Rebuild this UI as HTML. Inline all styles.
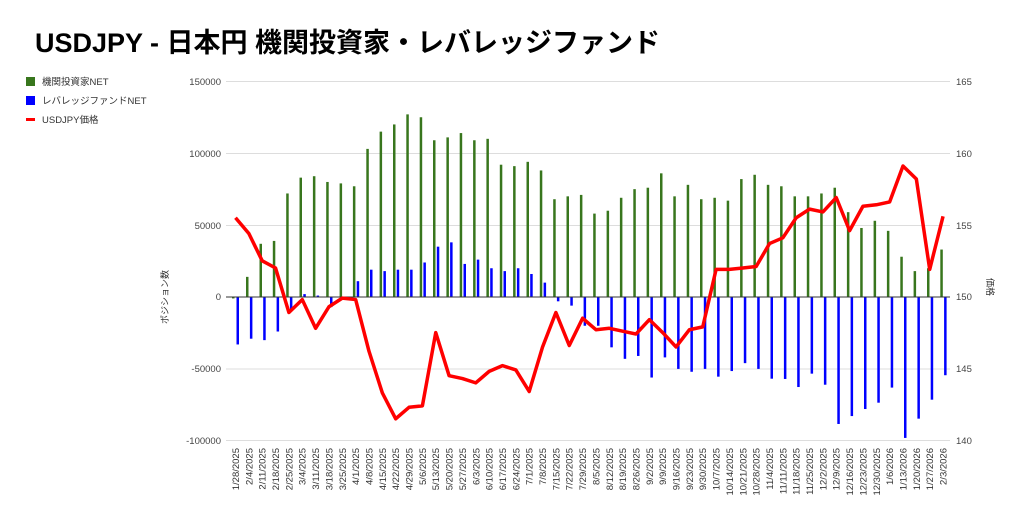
<!DOCTYPE html>
<html><head><meta charset="utf-8"><style>
body{margin:0;background:#fff;}
svg{display:block;font-family:"Liberation Sans","Noto Sans CJK JP",sans-serif;}
</style></head><body>
<svg width="1024" height="521" viewBox="0 0 1024 521" xmlns="http://www.w3.org/2000/svg">
<text x="35" y="52" font-size="27" font-weight="bold" fill="#000">USDJPY - 日本円 機関投資家・レバレッジファンド</text>
<rect x="26" y="77" width="9" height="9" fill="#38761d"/><text x="42" y="85" font-size="9.5" fill="#333">機関投資家NET</text>
<rect x="26" y="96" width="9" height="9" fill="#0000ff"/><text x="42" y="104" font-size="9.5" fill="#333">レバレッジファンドNET</text>
<rect x="26" y="118" width="9" height="3" fill="#ff0000"/><text x="42" y="123" font-size="9.5" fill="#333">USDJPY価格</text>
<g stroke="#ddd" stroke-width="1">
<line x1="226" y1="81.5" x2="950" y2="81.5"/><line x1="226" y1="153.5" x2="950" y2="153.5"/><line x1="226" y1="225.5" x2="950" y2="225.5"/><line x1="226" y1="369" x2="950" y2="369"/><line x1="226" y1="440.5" x2="950" y2="440.5"/>
</g>
<g font-size="9.5" fill="#444" text-anchor="end">
<text x="221" y="85">150000</text><text x="221" y="157">100000</text><text x="221" y="229">50000</text><text x="221" y="300">0</text><text x="221" y="372">-50000</text><text x="221" y="444">-100000</text>
</g>
<g font-size="9.5" fill="#444">
<text x="956" y="85">165</text><text x="956" y="157">160</text><text x="956" y="229">155</text><text x="956" y="300">150</text><text x="956" y="372">145</text><text x="956" y="444">140</text>
</g>
<text transform="translate(168,297) rotate(-90)" font-size="9" fill="#333" text-anchor="middle">ポジション数</text>
<text transform="translate(987,287) rotate(90)" font-size="9" fill="#333" text-anchor="middle">価格</text>
<g transform="translate(0,297) scale(1,-0.001438)">
<g fill="#38761d">
<rect x="232" y="-1000" width="2.5" height="1000"/>
<rect x="246" y="0" width="2.5" height="14000"/>
<rect x="259.5" y="0" width="2.5" height="37000"/>
<rect x="272.8" y="0" width="2.5" height="39000"/>
<rect x="286.2" y="0" width="2.5" height="72000"/>
<rect x="299.5" y="0" width="2.5" height="83000"/>
<rect x="312.9" y="0" width="2.5" height="84000"/>
<rect x="326.2" y="0" width="2.5" height="80000"/>
<rect x="339.6" y="0" width="2.5" height="79000"/>
<rect x="352.9" y="0" width="2.5" height="77000"/>
<rect x="366.3" y="0" width="2.5" height="103000"/>
<rect x="379.6" y="0" width="2.5" height="115000"/>
<rect x="393" y="0" width="2.5" height="120000"/>
<rect x="406.3" y="0" width="2.5" height="127000"/>
<rect x="419.7" y="0" width="2.5" height="125000"/>
<rect x="433" y="0" width="2.5" height="109000"/>
<rect x="446.4" y="0" width="2.5" height="111000"/>
<rect x="459.7" y="0" width="2.5" height="114000"/>
<rect x="473.1" y="0" width="2.5" height="109000"/>
<rect x="486.4" y="0" width="2.5" height="110000"/>
<rect x="499.8" y="0" width="2.5" height="92000"/>
<rect x="513.1" y="0" width="2.5" height="91000"/>
<rect x="526.5" y="0" width="2.5" height="94000"/>
<rect x="539.8" y="0" width="2.5" height="88000"/>
<rect x="553.2" y="0" width="2.5" height="68000"/>
<rect x="566.5" y="0" width="2.5" height="70000"/>
<rect x="579.9" y="0" width="2.5" height="71000"/>
<rect x="593.2" y="0" width="2.5" height="58000"/>
<rect x="606.6" y="0" width="2.5" height="60000"/>
<rect x="619.9" y="0" width="2.5" height="69000"/>
<rect x="633.3" y="0" width="2.5" height="75000"/>
<rect x="646.6" y="0" width="2.5" height="76000"/>
<rect x="660" y="0" width="2.5" height="86000"/>
<rect x="673.3" y="0" width="2.5" height="70000"/>
<rect x="686.7" y="0" width="2.5" height="78000"/>
<rect x="700" y="0" width="2.5" height="68000"/>
<rect x="713.4" y="0" width="2.5" height="69000"/>
<rect x="726.7" y="0" width="2.5" height="67000"/>
<rect x="740.1" y="0" width="2.5" height="82000"/>
<rect x="753.4" y="0" width="2.5" height="85000"/>
<rect x="766.8" y="0" width="2.5" height="78000"/>
<rect x="780.1" y="0" width="2.5" height="77000"/>
<rect x="793.5" y="0" width="2.5" height="70000"/>
<rect x="806.8" y="0" width="2.5" height="70000"/>
<rect x="820.2" y="0" width="2.5" height="72000"/>
<rect x="833.5" y="0" width="2.5" height="76000"/>
<rect x="846.9" y="0" width="2.5" height="59000"/>
<rect x="860.2" y="0" width="2.5" height="48000"/>
<rect x="873.6" y="0" width="2.5" height="53000"/>
<rect x="886.9" y="0" width="2.5" height="46000"/>
<rect x="900.3" y="0" width="2.5" height="28000"/>
<rect x="913.6" y="0" width="2.5" height="18000"/>
<rect x="927" y="0" width="2.5" height="20000"/>
<rect x="940.3" y="0" width="2.5" height="33000"/>
</g>
<g fill="#0000ff">
<rect x="236.5" y="-33000" width="2.5" height="33000"/>
<rect x="249.9" y="-29000" width="2.5" height="29000"/>
<rect x="263.2" y="-30000" width="2.5" height="30000"/>
<rect x="276.6" y="-24000" width="2.5" height="24000"/>
<rect x="289.9" y="-10000" width="2.5" height="10000"/>
<rect x="303.3" y="0" width="2.5" height="2000"/>
<rect x="316.6" y="0" width="2.5" height="1000"/>
<rect x="330" y="-7000" width="2.5" height="7000"/>
<rect x="343.3" y="-500" width="2.5" height="500"/>
<rect x="356.7" y="0" width="2.5" height="11000"/>
<rect x="370" y="0" width="2.5" height="19000"/>
<rect x="383.4" y="0" width="2.5" height="18000"/>
<rect x="396.7" y="0" width="2.5" height="19000"/>
<rect x="410.1" y="0" width="2.5" height="19000"/>
<rect x="423.4" y="0" width="2.5" height="24000"/>
<rect x="436.8" y="0" width="2.5" height="35000"/>
<rect x="450.1" y="0" width="2.5" height="38000"/>
<rect x="463.5" y="0" width="2.5" height="23000"/>
<rect x="476.8" y="0" width="2.5" height="26000"/>
<rect x="490.2" y="0" width="2.5" height="20000"/>
<rect x="503.5" y="0" width="2.5" height="18000"/>
<rect x="516.9" y="0" width="2.5" height="20000"/>
<rect x="530.2" y="0" width="2.5" height="16000"/>
<rect x="543.6" y="0" width="2.5" height="10000"/>
<rect x="556.9" y="-3000" width="2.5" height="3000"/>
<rect x="570.3" y="-6000" width="2.5" height="6000"/>
<rect x="583.6" y="-20000" width="2.5" height="20000"/>
<rect x="597" y="-20000" width="2.5" height="20000"/>
<rect x="610.3" y="-35000" width="2.5" height="35000"/>
<rect x="623.7" y="-43000" width="2.5" height="43000"/>
<rect x="637" y="-41000" width="2.5" height="41000"/>
<rect x="650.4" y="-56000" width="2.5" height="56000"/>
<rect x="663.7" y="-42000" width="2.5" height="42000"/>
<rect x="677.1" y="-50000" width="2.5" height="50000"/>
<rect x="690.4" y="-52000" width="2.5" height="52000"/>
<rect x="703.8" y="-50000" width="2.5" height="50000"/>
<rect x="717.1" y="-55400" width="2.5" height="55400"/>
<rect x="730.5" y="-51500" width="2.5" height="51500"/>
<rect x="743.8" y="-46000" width="2.5" height="46000"/>
<rect x="757.2" y="-50000" width="2.5" height="50000"/>
<rect x="770.5" y="-56800" width="2.5" height="56800"/>
<rect x="783.9" y="-57000" width="2.5" height="57000"/>
<rect x="797.2" y="-62600" width="2.5" height="62600"/>
<rect x="810.6" y="-53300" width="2.5" height="53300"/>
<rect x="823.9" y="-61000" width="2.5" height="61000"/>
<rect x="837.3" y="-88300" width="2.5" height="88300"/>
<rect x="850.6" y="-82800" width="2.5" height="82800"/>
<rect x="864" y="-77900" width="2.5" height="77900"/>
<rect x="877.3" y="-73500" width="2.5" height="73500"/>
<rect x="890.7" y="-63000" width="2.5" height="63000"/>
<rect x="904" y="-98000" width="2.5" height="98000"/>
<rect x="917.4" y="-84600" width="2.5" height="84600"/>
<rect x="930.7" y="-71400" width="2.5" height="71400"/>
<rect x="944.1" y="-54400" width="2.5" height="54400"/>
</g>
</g>
<line x1="226" y1="297" x2="950" y2="297" stroke="#333" stroke-width="1"/>
<g transform="translate(235.5,296.7) scale(13.35,-14.36)">
<polyline fill="none" stroke="#ff0000" stroke-width="3.5" stroke-linejoin="round" vector-effect="non-scaling-stroke" points="0,5.5 1,4.4 2,2.5 3,2 4,-1.1 5,-0.2 6,-2.2 7,-0.7 8,-0.1 9,-0.2 10,-3.8 11,-6.7 12,-8.5 13,-7.7 14,-7.6 15,-2.5 16,-5.5 17,-5.7 18,-6 19,-5.2 20,-4.8 21,-5.1 22,-6.6 23,-3.5 24,-1.1 25,-3.4 26,-1.5 27,-2.3 28,-2.2 29,-2.4 30,-2.6 31,-1.6 32,-2.5 33,-3.5 34,-2.3 35,-2.1 36,1.9 37,1.9 38,2 39,2.1 40,3.7 41,4.1 42,5.5 43,6.1 44,5.9 45,6.9 46,4.6 47,6.3 48,6.4 49,6.6 50,9.1 51,8.2 52,1.9 53,5.6"/>
</g>
<g font-size="9.5" fill="#333" text-anchor="end">
<text transform="translate(239,448) rotate(-90)">1/28/2025</text>
<text transform="translate(252.3,448) rotate(-90)">2/4/2025</text>
<text transform="translate(265.7,448) rotate(-90)">2/11/2025</text>
<text transform="translate(279,448) rotate(-90)">2/18/2025</text>
<text transform="translate(292.4,448) rotate(-90)">2/25/2025</text>
<text transform="translate(305.7,448) rotate(-90)">3/4/2025</text>
<text transform="translate(319.1,448) rotate(-90)">3/11/2025</text>
<text transform="translate(332.4,448) rotate(-90)">3/18/2025</text>
<text transform="translate(345.8,448) rotate(-90)">3/25/2025</text>
<text transform="translate(359.1,448) rotate(-90)">4/1/2025</text>
<text transform="translate(372.5,448) rotate(-90)">4/8/2025</text>
<text transform="translate(385.8,448) rotate(-90)">4/15/2025</text>
<text transform="translate(399.2,448) rotate(-90)">4/22/2025</text>
<text transform="translate(412.5,448) rotate(-90)">4/29/2025</text>
<text transform="translate(425.9,448) rotate(-90)">5/6/2025</text>
<text transform="translate(439.2,448) rotate(-90)">5/13/2025</text>
<text transform="translate(452.6,448) rotate(-90)">5/20/2025</text>
<text transform="translate(465.9,448) rotate(-90)">5/27/2025</text>
<text transform="translate(479.3,448) rotate(-90)">6/3/2025</text>
<text transform="translate(492.6,448) rotate(-90)">6/10/2025</text>
<text transform="translate(506,448) rotate(-90)">6/17/2025</text>
<text transform="translate(519.3,448) rotate(-90)">6/24/2025</text>
<text transform="translate(532.7,448) rotate(-90)">7/1/2025</text>
<text transform="translate(546,448) rotate(-90)">7/8/2025</text>
<text transform="translate(559.4,448) rotate(-90)">7/15/2025</text>
<text transform="translate(572.7,448) rotate(-90)">7/22/2025</text>
<text transform="translate(586.1,448) rotate(-90)">7/29/2025</text>
<text transform="translate(599.4,448) rotate(-90)">8/5/2025</text>
<text transform="translate(612.8,448) rotate(-90)">8/12/2025</text>
<text transform="translate(626.1,448) rotate(-90)">8/19/2025</text>
<text transform="translate(639.5,448) rotate(-90)">8/26/2025</text>
<text transform="translate(652.8,448) rotate(-90)">9/2/2025</text>
<text transform="translate(666.2,448) rotate(-90)">9/9/2025</text>
<text transform="translate(679.5,448) rotate(-90)">9/16/2025</text>
<text transform="translate(692.9,448) rotate(-90)">9/23/2025</text>
<text transform="translate(706.2,448) rotate(-90)">9/30/2025</text>
<text transform="translate(719.6,448) rotate(-90)">10/7/2025</text>
<text transform="translate(732.9,448) rotate(-90)">10/14/2025</text>
<text transform="translate(746.3,448) rotate(-90)">10/21/2025</text>
<text transform="translate(759.6,448) rotate(-90)">10/28/2025</text>
<text transform="translate(773,448) rotate(-90)">11/4/2025</text>
<text transform="translate(786.3,448) rotate(-90)">11/11/2025</text>
<text transform="translate(799.7,448) rotate(-90)">11/18/2025</text>
<text transform="translate(813,448) rotate(-90)">11/25/2025</text>
<text transform="translate(826.4,448) rotate(-90)">12/2/2025</text>
<text transform="translate(839.7,448) rotate(-90)">12/9/2025</text>
<text transform="translate(853.1,448) rotate(-90)">12/16/2025</text>
<text transform="translate(866.4,448) rotate(-90)">12/23/2025</text>
<text transform="translate(879.8,448) rotate(-90)">12/30/2025</text>
<text transform="translate(893.1,448) rotate(-90)">1/6/2026</text>
<text transform="translate(906.5,448) rotate(-90)">1/13/2026</text>
<text transform="translate(919.8,448) rotate(-90)">1/20/2026</text>
<text transform="translate(933.2,448) rotate(-90)">1/27/2026</text>
<text transform="translate(946.5,448) rotate(-90)">2/3/2026</text>
</g>
</svg>
</body></html>
